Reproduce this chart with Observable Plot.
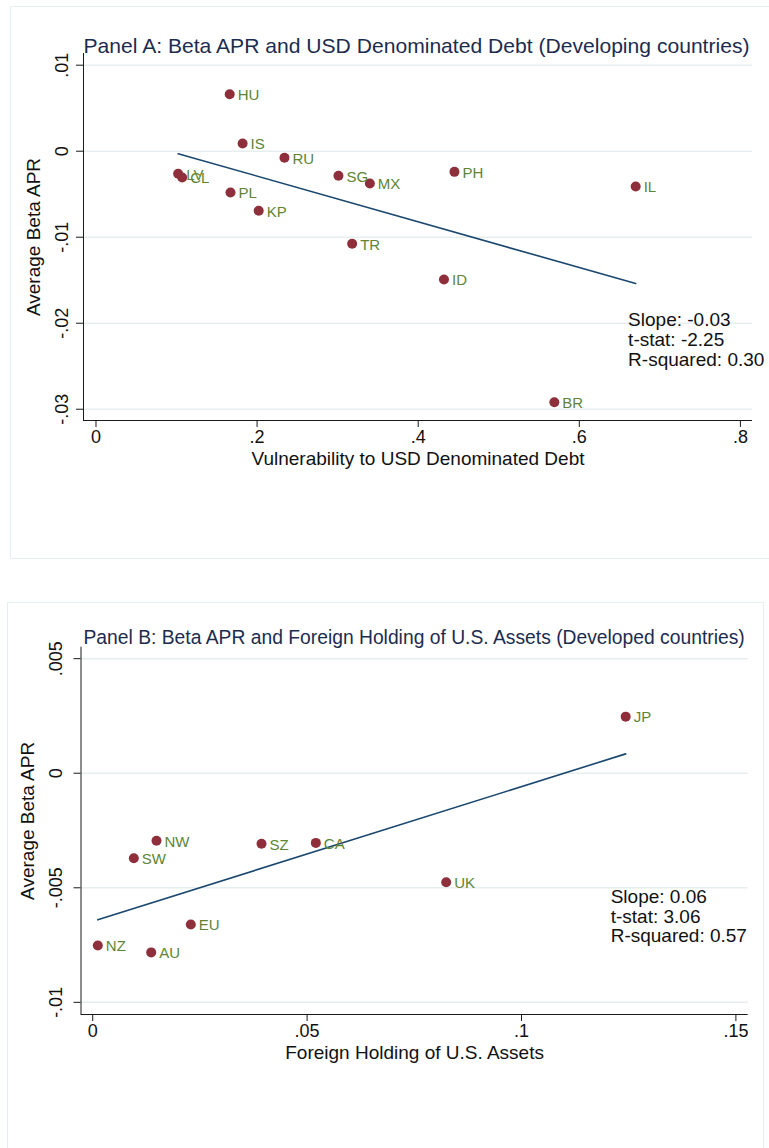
<!DOCTYPE html>
<html>
<head>
<meta charset="utf-8">
<script src="https://cdn.jsdelivr.net/npm/d3@7"></script>
<script src="https://cdn.jsdelivr.net/npm/@observablehq/plot@0.6"></script>
<style>
  html, body { margin: 0; padding: 0; background: #fff; }
  body { width: 769px; height: 1148px; position: relative; overflow: hidden; font-family: "Liberation Sans", Arial, sans-serif; }
  .box { position: absolute; border: 1.5px solid #e6eef0; box-sizing: border-box; }
  .panel { position: absolute; left: 0; }
</style>
</head>
<body>
<div class="box" style="left:10px; top:6px; width:770px; height:553px;"></div>
<div class="box" style="left:7px; top:602px; width:757px; height:560px;"></div>
<div id="pa" class="panel" style="top:0px;"></div>
<div id="pb" class="panel" style="top:600px;"></div>
<script>
// ---------- Panel A data (Developing countries) ----------
const aTitle = "Panel A: Beta APR and USD Denominated Debt (Developing countries)";
const aXLabel = "Vulnerability to USD Denominated Debt";
const aCodes = ["HU","IS","RU","LV","CL","PL","KP","SG","MX","TR","ID","PH","IL","BR"];
const aX = [0.166,0.182,0.234,0.102,0.107,0.167,0.202,0.301,0.340,0.318,0.432,0.445,0.670,0.569];
const aY = [0.00663,0.0009,-0.00077,-0.00263,-0.00306,-0.0048,-0.00693,-0.00286,-0.00376,-0.01077,-0.01492,-0.0024,-0.0041,-0.02919];
const aXTicks = [0, 0.2, 0.4, 0.6, 0.8];
const aXTickLabels = ["0", ".2", ".4", ".6", ".8"];
const aYTicks = [0.01, 0, -0.01, -0.02, -0.03];
const aYTickLabels = [".01", "0", "-.01", "-.02", "-.03"];
const aStats = ["Slope: -0.03", "t-stat: -2.25", "R-squared: 0.30"];

// ---------- Panel B data (Developed countries) ----------
const bTitle = "Panel B: Beta APR and Foreign Holding of U.S. Assets (Developed countries)";
const bXLabel = "Foreign Holding of U.S. Assets";
const bCodes = ["NW","SW","SZ","CA","EU","NZ","AU","JP","UK"];
const bX = [0.01488,0.00959,0.03937,0.05204,0.02288,0.00119,0.01364,0.1243,0.08244];
const bY = [-0.00295,-0.00371,-0.00308,-0.00304,-0.0066,-0.00752,-0.00782,0.00247,-0.00476];
const bXTicks = [0, 0.05, 0.1, 0.15];
const bXTickLabels = ["0", ".05", ".1", ".15"];
const bYTicks = [0.005, 0, -0.005, -0.01];
const bYTickLabels = [".005", "0", "-.005", "-.01"];
const bStats = ["Slope: 0.06", "t-stat: 3.06", "R-squared: 0.57"];

const yLabel = "Average Beta APR";

const C = {
  title: "#1c2c50",
  marker: "#8f2f3b",
  label: "#5d8535",
  fit: "#1a476f",
  grid: "#e6eef0",
  axis: "#1a1a1a",
  text: "#111"
};

function panel(o) {
  const data = o.codes.map((c, i) => ({code: c, x: o.xs[i], y: o.ys[i]}));
  const xd = o.xDomain, yd = o.yDomain;
  return Plot.plot({
    width: 769,
    height: o.height,
    marginLeft: o.ml, marginRight: o.mr, marginTop: o.mt, marginBottom: o.mb,
    x: {domain: xd, axis: null},
    y: {domain: yd, axis: null},
    style: {fontFamily: "'Liberation Sans', Arial, sans-serif", background: "transparent", overflow: "visible"},
    marks: [
      Plot.gridY(o.yTicks, {stroke: C.grid, strokeOpacity: 1, strokeWidth: 1.5}),
      Plot.ruleX([xd[0]], {stroke: C.axis, strokeWidth: 1}),
      Plot.ruleY([yd[0]], {stroke: C.axis, strokeWidth: 1}),
      Plot.axisY(o.yTicks, {tickSize: 7, tickFormat: () => "", stroke: C.axis, label: null}),
      Plot.text(o.yTicks, {y: d => d, text: (d, i) => o.yTickLabels[i], frameAnchor: "left", dx: -o.tickDx, rotate: -90, fontSize: 18, fill: C.text, textAnchor: "middle"}),
      Plot.axisX(o.xTicks, {tickSize: 7, tickPadding: 3, tickFormat: (d, i) => o.xTickLabels[i], stroke: C.axis, fill: C.text, fontSize: 18, label: null}),
      Plot.text([o.xLabel], {frameAnchor: "bottom", dy: 44, fontSize: 19, fill: C.text}),
      Plot.text([yLabel], {frameAnchor: "left", dx: -o.yTitleDx, dy: o.yTitleDy, rotate: -90, textAnchor: "middle", fontSize: 19, fill: C.text}),
      Plot.text([o.title], {frameAnchor: "top-left", dx: o.titleX, dy: -o.titleDy, textAnchor: "start", fontSize: o.titleSize, fill: C.title}),
      Plot.linearRegressionY(data, {x: "x", y: "y", ci: 0, stroke: C.fit, strokeWidth: 1.6}),
      Plot.dot(data, {x: "x", y: "y", r: 5, fill: C.marker, stroke: "none"}),
      Plot.text(data, {x: "x", y: "y", text: "code", dx: 8, dy: 1, textAnchor: "start", fontSize: 15, fill: C.label}),
      Plot.text([o.stats.join("\n")], {x: o.statX, y: o.statY, textAnchor: "start", lineAnchor: "top", lineHeight: 1.04, fontSize: 19, fill: C.text})
    ]
  });
}

document.getElementById("pa").appendChild(panel({
  height: 560, ml: 83, mr: 17, mt: 53, mb: 140,
  xDomain: [-0.0155, 0.815], yDomain: [-0.03131, 0.01136],
  codes: aCodes, xs: aX, ys: aY,
  xTicks: aXTicks, xTickLabels: aXTickLabels, yTicks: aYTicks, yTickLabels: aYTickLabels,
  xLabel: aXLabel, title: aTitle, stats: aStats, statX: 0.6606, statY: -0.01872,
  tickDx: 21, yTitleDx: 50, yTitleDy: 0, titleDy: 15.5, titleX: 0, titleSize: 21.1
}));

document.getElementById("pb").appendChild(panel({
  height: 548, ml: 80.5, mr: 21.3, mt: 46.7, mb: 134,
  xDomain: [-0.00273, 0.15287], yDomain: [-0.01053, 0.0055],
  codes: bCodes, xs: bX, ys: bY,
  xTicks: bXTicks, xTickLabels: bXTickLabels, yTicks: bYTicks, yTickLabels: bYTickLabels,
  xLabel: bXLabel, title: bTitle, stats: bStats, statX: 0.1208, statY: -0.005044,
  tickDx: 25, yTitleDx: 53, yTitleDy: -10, titleDy: 16.7, titleX: 2.5, titleSize: 19.3
}));
</script>
</body>
</html>
